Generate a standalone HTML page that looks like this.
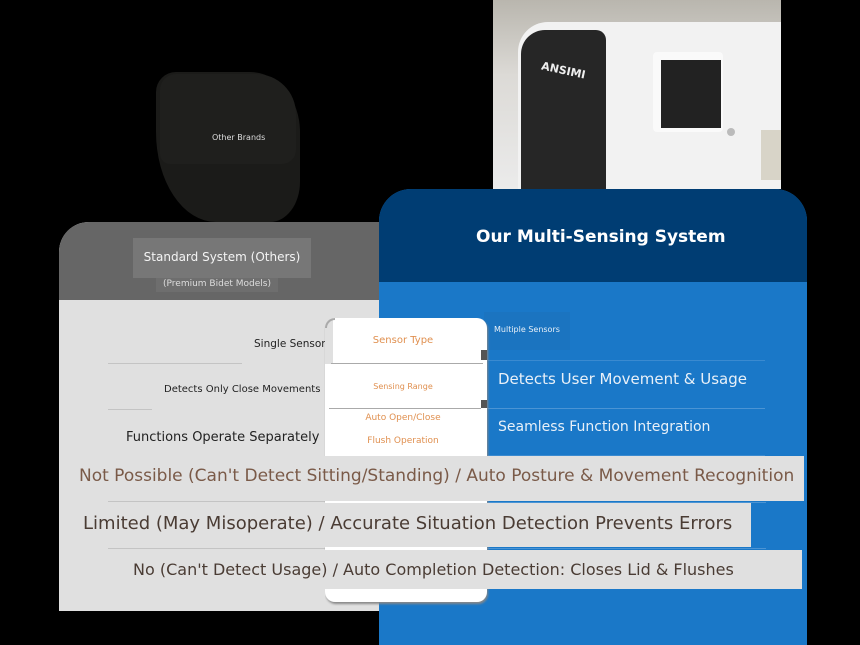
<!DOCTYPE html>
<html><head><meta charset="utf-8"><style>
*{margin:0;padding:0;box-sizing:border-box}
html,body{width:860px;height:645px;overflow:hidden}
body{background:#000;position:relative;font-family:"DejaVu Sans","Liberation Sans",sans-serif}
.a{position:absolute}
.t{position:absolute;white-space:nowrap}
</style></head><body>
<!-- toilet -->
<div class="a" style="left:156px;top:72px;width:144px;height:150px;background:#1b1b19;border-radius:20px 50px 30px 60px / 20px 60px 40px 90px"></div>
<div class="a" style="left:160px;top:74px;width:136px;height:90px;background:#1f1f1d;border-radius:16px 40px 14px 10px"></div>
<div class="t" style="left:212px;top:133px;font-size:8px;color:#ddd">Other Brands</div>
<!-- photo -->
<div class="a" style="left:493px;top:0;width:288px;height:189px;background:linear-gradient(180deg,#b9b6ae 0,#dcdad6 40%,#ebebeb 100%);overflow:hidden">
  <div class="a" style="left:25px;top:22px;width:270px;height:180px;background:#f2f2f2;border-radius:30px 0 0 0"></div>
  <div class="a" style="left:28px;top:30px;width:85px;height:165px;background:#262626;border-radius:24px 10px 0 0"></div>
  <div class="t" style="left:48px;top:64px;font-size:11px;font-weight:bold;color:#eee;transform:rotate(12deg)">ANSIMI</div>
  <div class="a" style="left:160px;top:52px;width:70px;height:80px;background:#fafafa;border-radius:4px"></div>
  <div class="a" style="left:168px;top:60px;width:60px;height:68px;background:#222"></div>
  <div class="a" style="left:234px;top:128px;width:8px;height:8px;background:#bbb;border-radius:50%"></div>
  <div class="a" style="left:268px;top:130px;width:20px;height:50px;background:#d8d4c8"></div>
</div>
<!-- left panel -->
<div class="a" style="left:59px;top:222px;width:330px;height:389px;background:#e0e0e0;border-radius:30px 0 0 0;overflow:hidden">
  <div class="a" style="left:0;top:0;width:330px;height:78px;background:#666"></div>
</div>
<div class="a" style="left:133px;top:238px;width:178px;height:40px;background:#777"></div>
<div class="t" style="left:133px;top:250px;width:178px;text-align:center;font-size:12px;color:#f4f4f4">Standard System (Others)</div>
<div class="a" style="left:156px;top:278px;width:122px;height:14px;background:#6e6e6e"></div>
<div class="t" style="left:156px;top:279px;width:122px;text-align:center;font-size:9px;color:#ddd">(Premium Bidet Models)</div>
<div class="t" style="left:254px;top:338px;font-size:10.5px;color:#222">Single Sensor</div>
<div class="a" style="left:108px;top:363px;width:134px;height:1px;background:#c4c4c4"></div>
<div class="t" style="left:164px;top:384px;font-size:10px;color:#222">Detects Only Close Movements</div>
<div class="a" style="left:108px;top:409px;width:44px;height:1px;background:#c4c4c4"></div>
<div class="t" style="left:126px;top:430px;font-size:13px;color:#222">Functions Operate Separately</div>
<div class="a" style="left:108px;top:501px;width:218px;height:1px;background:#c4c4c4"></div>
<div class="a" style="left:108px;top:548px;width:218px;height:1px;background:#c4c4c4"></div>
<!-- right panel -->
<div class="a" style="left:379px;top:189px;width:428px;height:456px;background:#1a78c8;border-radius:32px 32px 0 0;overflow:hidden">
  <div class="a" style="left:0;top:0;width:428px;height:93px;background:#003d73"></div>
</div>
<div class="t" style="left:476px;top:227px;font-size:17px;font-weight:bold;color:#fff">Our Multi-Sensing System</div>
<div class="a" style="left:484px;top:312px;width:86px;height:38px;background:#1b74c0"></div>
<div class="t" style="left:494px;top:325px;font-size:8px;color:#e8f0f8">Multiple Sensors</div>
<div class="a" style="left:482px;top:360px;width:283px;height:1px;background:#3a8ad0"></div>
<div class="t" style="left:498px;top:370px;font-size:15px;color:#e8f0f8">Detects User Movement &amp; Usage</div>
<div class="a" style="left:482px;top:408px;width:283px;height:1px;background:#4b94d4"></div>
<div class="t" style="left:498px;top:419px;font-size:14px;color:#e8f0f8">Seamless Function Integration</div>
<div class="a" style="left:482px;top:455px;width:283px;height:1px;background:#3a8ad0"></div>
<div class="a" style="left:486px;top:502px;width:280px;height:1px;background:#4b94d4"></div>
<div class="a" style="left:486px;top:548px;width:280px;height:1px;background:#4b94d4"></div>
<!-- middle column -->
<div class="a" style="left:325px;top:318px;width:162px;height:284px;background:#fff;border-radius:10px;box-shadow:1px 2px 2px #888"></div>
<div class="a" style="left:325px;top:318px;width:8px;height:46px;background:#e0e0e0"></div>
<div class="a" style="left:325px;top:318px;width:10px;height:10px;border-top:2px solid #aaa;border-left:2px solid #aaa;border-radius:10px 0 0 0"></div>
<div class="a" style="left:331px;top:363px;width:152px;height:1px;background:#aaa"></div>
<div class="a" style="left:329px;top:408px;width:152px;height:1px;background:#aaa"></div>
<div class="a" style="left:481px;top:350px;width:6px;height:10px;background:#555"></div>
<div class="a" style="left:481px;top:400px;width:6px;height:8px;background:#555"></div>
<div class="t" style="left:325px;top:335px;width:156px;text-align:center;font-size:10px;color:#e09050">Sensor Type</div>
<div class="t" style="left:325px;top:382px;width:156px;text-align:center;font-size:8px;color:#e09050">Sensing Range</div>
<div class="t" style="left:325px;top:413px;width:156px;text-align:center;font-size:9px;color:#e09050">Auto Open/Close</div>
<div class="t" style="left:325px;top:436px;width:156px;text-align:center;font-size:9px;color:#e09050">Flush Operation</div>
<!-- overflow rows -->
<div class="a" style="left:72px;top:456px;width:732px;height:45px;background:#e0e0e0"></div>
<div class="t" style="left:79px;top:466px;font-size:17px;color:#7a5a48">Not Possible (Can't Detect Sitting/Standing) / Auto Posture &amp; Movement Recognition</div>
<div class="a" style="left:80px;top:503px;width:671px;height:44px;background:#e0e0e0"></div>
<div class="t" style="left:83px;top:513px;font-size:18px;color:#4a3c34">Limited (May Misoperate) / Accurate Situation Detection Prevents Errors</div>
<div class="a" style="left:127px;top:550px;width:675px;height:39px;background:#e0e0e0"></div>
<div class="t" style="left:133px;top:560px;font-size:16px;color:#4a3c34">No (Can't Detect Usage) / Auto Completion Detection: Closes Lid &amp; Flushes</div>
<div class="a" style="left:59px;top:589px;width:266px;height:21px;background:#e0e0e0"></div>
</body></html>
